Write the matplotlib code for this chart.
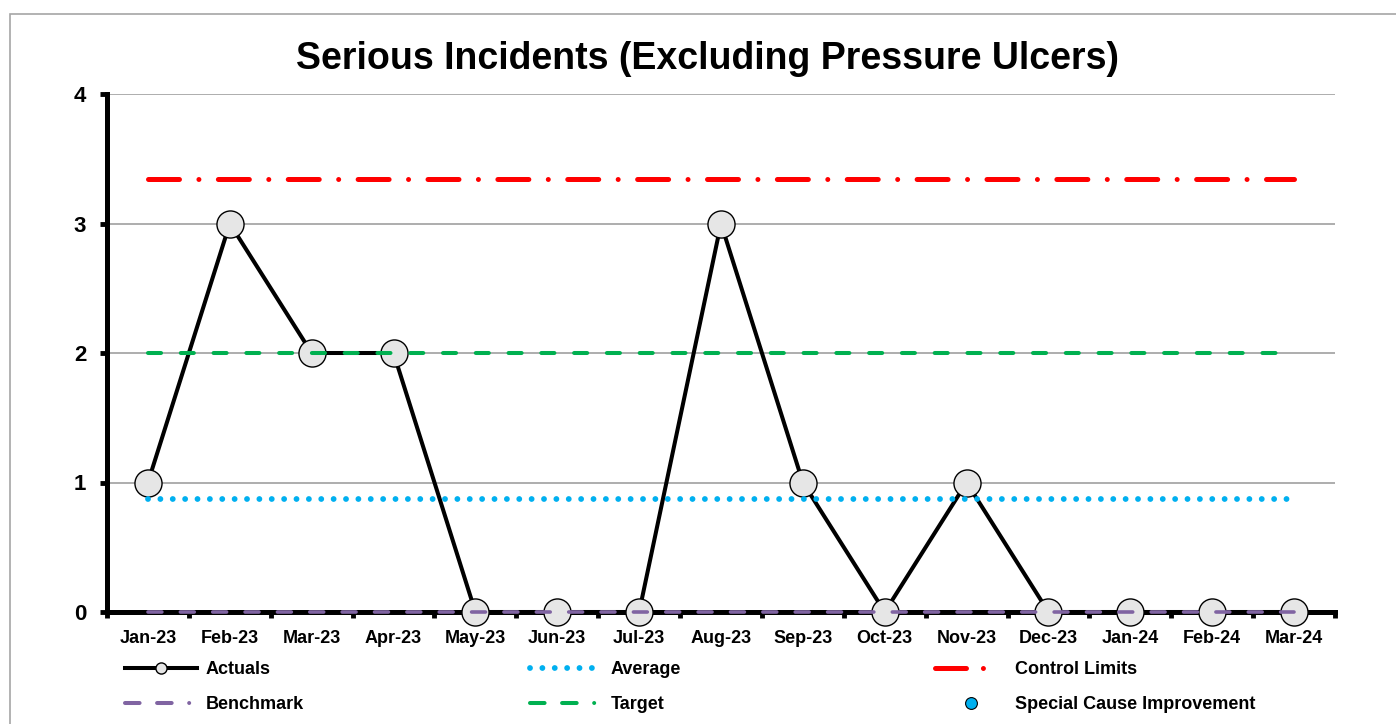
import matplotlib
matplotlib.use('Agg')
import matplotlib.pyplot as plt
from matplotlib.lines import Line2D
from matplotlib.patches import Rectangle
import numpy as np

plt.rcParams['font.family'] = ['Liberation Sans', 'DejaVu Sans']
plt.rcParams['font.weight'] = 'bold'
plt.rcParams['lines.scale_dashes'] = False

months = ['Jan-23', 'Feb-23', 'Mar-23', 'Apr-23', 'May-23', 'Jun-23', 'Jul-23', 'Aug-23',
          'Sep-23', 'Oct-23', 'Nov-23', 'Dec-23', 'Jan-24', 'Feb-24', 'Mar-24']
actuals = [1, 3, 2, 2, 0, 0, 0, 3, 1, 0, 1, 0, 0, 0, 0]
average = [0.87] * 15
upper_limit = [3.34] * 15
target = [2] * 15
benchmark = [0] * 15

x = np.arange(len(months))

fig = plt.figure(figsize=(13.96, 7.24), dpi=100)
ax = fig.add_axes([107 / 1396, 1 - 612 / 724, (1335 - 107) / 1396, (612 - 94) / 724])

# outer frame of the chart
fig.patches.append(Rectangle((10 / 1396, -0.1), 1.2, 1 - 14 / 724 + 0.1, transform=fig.transFigure,
                             fill=False, edgecolor='#a6a6a6', lw=1.2))

ax.plot(x, actuals, color='black', lw=2.9, marker='o', markersize=19.5,
        markerfacecolor='#e6e6e6', markeredgecolor='black', markeredgewidth=1.0,
        clip_on=False, zorder=3)
ax.plot(x, average, color='#00b0f0', lw=4.2, linestyle=(0, (0.01, 8.9)),
        dash_capstyle='round', zorder=4)
ax.plot(x, upper_limit, color='red', lw=3.6, linestyle=(0, (22.3, 14, 0.01, 14)),
        dash_capstyle='round', zorder=4)
ax.plot(x, target, color='#00b050', lw=2.9, linestyle=(0, (9.4, 14.2)),
        dash_capstyle='round', zorder=4)
ax.plot(x, benchmark, color='#8064a2', lw=2.6, linestyle=(0, (10, 13.3)),
        dash_capstyle='round', clip_on=False, zorder=5)

ax.set_xlim(-0.5, len(months) - 0.5)
ax.set_ylim(0, 4)
ax.set_yticks([0, 1, 2, 3, 4])
ax.set_xticks(x)
ax.set_xticklabels(months)
ax.set_xticks(np.arange(-0.5, len(months)), minor=True)
ax.tick_params(axis='x', which='major', length=0, pad=13, labelsize=13)
ax.tick_params(axis='x', which='minor', length=4, width=3.5, direction='out')
ax.tick_params(axis='y', length=5, width=3.5, pad=10, labelsize=16)
ax.grid(axis='y', color='#a0a0a0', lw=1.2)
ax.set_axisbelow(True)
for s in ['top', 'right']:
    ax.spines[s].set_visible(False)
ax.spines['left'].set_linewidth(3.6)
ax.spines['bottom'].set_linewidth(3.6)
ax.spines['bottom'].set_zorder(2.5)

fig.text(0.507, 0.918, 'Serious Incidents (Excluding Pressure Ulcers)', ha='center', va='center',
         fontsize=27, fontweight='bold')

h_act = Line2D([], [], color='black', lw=2.9, marker='o', markersize=8,
               markerfacecolor='#e6e6e6', markeredgecolor='black', markeredgewidth=1.0)
h_avg = Line2D([], [], color='#00b0f0', lw=4.2, linestyle=(0, (0.01, 8.9)), dash_capstyle='round')
h_ucl = Line2D([], [], color='red', lw=3.6, linestyle=(0, (22.3, 12.2, 0.01, 40)), dash_capstyle='round')
h_bm = Line2D([], [], color='#8064a2', lw=2.9, linestyle=(0, (10.5, 12.6, 10.5, 12.6, 0.01, 20)),
              dash_capstyle='round')
h_tg = Line2D([], [], color='#00b050', lw=2.9, linestyle=(0, (10.5, 12.6, 10.5, 12.6, 0.01, 20)),
              dash_capstyle='round')
h_sci = Line2D([], [], color='none', marker='o', markersize=8.5, markerfacecolor='#00b0f0',
               markeredgecolor='black', markeredgewidth=0.8)

cols = [((h_act, 'Actuals'), (h_bm, 'Benchmark'), 125),
        ((h_avg, 'Average'), (h_tg, 'Target'), 530),
        ((h_ucl, 'Control Limits'), (h_sci, 'Special Cause Improvement'), 935)]
for a, b, px in cols:
    leg = fig.legend([a[0], b[0]], [a[1], b[1]], loc='upper left',
                     bbox_to_anchor=(px / 1396, 1 - 661 / 724), frameon=False,
                     fontsize=13, handlelength=4.0, handletextpad=0.45,
                     labelspacing=1.0, borderpad=0, borderaxespad=0)

fig.savefig('out.png', dpi=100)
